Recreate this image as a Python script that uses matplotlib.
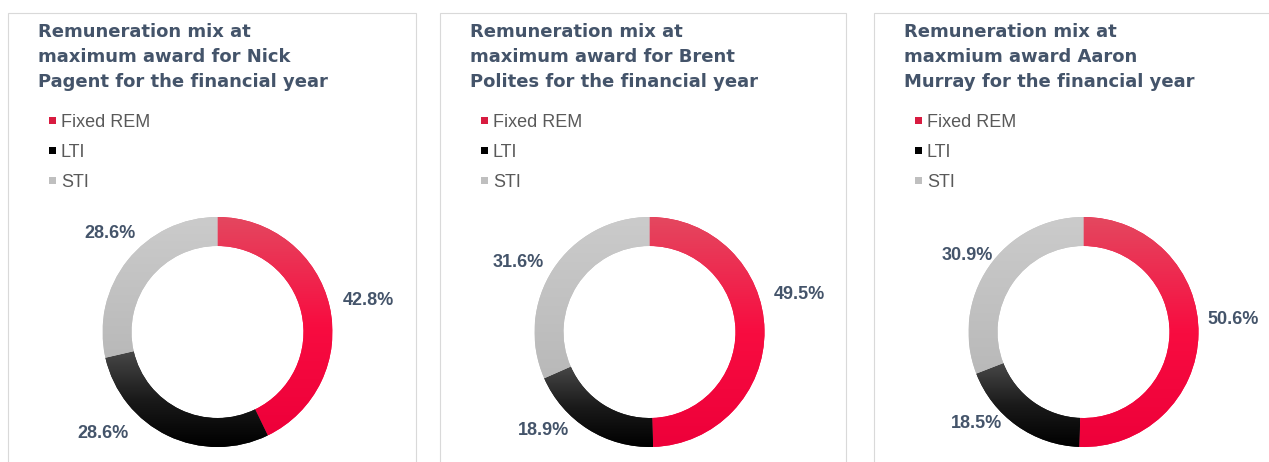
import numpy as np
import matplotlib
matplotlib.use("Agg")
import matplotlib.pyplot as plt
from matplotlib.patches import Rectangle
from matplotlib.colors import to_rgb

# Donnees
titres = [
    ["Remuneration mix at", "maximum award for Nick", "Pagent for the financial year"],
    ["Remuneration mix at", "maximum award for Brent", "Polites for the financial year"],
    ["Remuneration mix at", "maxmium award Aaron", "Murray for the financial year"],
]
categories = ["Fixed REM", "LTI", "STI"]
nick = [42.8, 28.6, 28.6]
brent = [49.5, 18.9, 31.6]
aaron = [50.6, 18.5, 30.9]
series = [nick, brent, aaron]

# Style
W, H = 1269, 462
panel_left = [8, 440, 874]
panel_width = [408, 406, 420]
couleurs_leg = ["#D81B40", "#000000", "#BFBFBF"]
degrades = [
    ["#E4475F", "#F80C40", "#EE003A"],
    ["#474747", "#1A1A1A", "#000000"],
    ["#CBCBCB", "#C2C2C2", "#B9B9B9"],
]
# decalage angulaire (deg) et rayon relatif des etiquettes
nudges = [[-1, -23, -4], [13, -15, 5], [6, -14, 1]]
rayons = [[1.34, 1.33, 1.27], [1.34, 1.26, 1.29], [1.31, 1.22, 1.21]]
R = 115
anneau = 29
titre_col = "#44546A"

fig = plt.figure(figsize=(W / 100, H / 100), dpi=100)
ax = fig.add_axes([0, 0, 1, 1])
ax.axis("off")


def gradient_image(couleurs, n=64):
    stops = np.array([to_rgb(c) for c in couleurs])
    pos = np.linspace(0, 1, len(couleurs))
    t = np.linspace(0, 1, n)
    img = np.stack([np.interp(t, pos, stops[:, k]) for k in range(3)], axis=-1)
    return img[:, None, :]


for i, vals in enumerate(series):
    p = panel_left[i]
    ax.add_patch(Rectangle((p, -10), panel_width[i], H - 13 + 10,
                           fill=False, edgecolor="#D9D9D9", linewidth=0.8))

    # Titre
    for j, ligne in enumerate(titres[i]):
        ax.text(p + 30, H - (37 + 25 * j), ligne, ha="left", va="baseline",
                fontsize=13, fontweight="bold", family="DejaVu Sans",
                color=titre_col)

    # Legende
    for j, cat in enumerate(categories):
        yc = H - (120 + 30 * j)
        ax.add_patch(Rectangle((p + 41, yc - 3.5), 7, 7, color=couleurs_leg[j],
                               linewidth=0))
        ax.text(p + 53, H - (127 + 30 * j), cat, ha="left", va="baseline",
                fontsize=13, family="Liberation Sans", color="#595959")

    # Anneau
    cx, cy = p + 209.5, H - 332
    wedges, _ = ax.pie(vals, center=(cx, cy), radius=R, startangle=90,
                       counterclock=False, colors=[d[1] for d in degrades],
                       wedgeprops=dict(width=anneau, edgecolor="none"))
    for j, w in enumerate(wedges):
        b = w.get_path().get_extents()
        im = ax.imshow(gradient_image(degrades[j]), extent=[b.x0, b.x1, b.y0, b.y1],
                       origin="upper", aspect="auto", interpolation="bilinear",
                       zorder=3)
        im.set_clip_path(w)

    # Etiquettes
    total = sum(vals)
    debut = 90.0
    for j, v in enumerate(vals):
        mid = debut - v / total * 180.0
        debut -= v / total * 360.0
        ang = np.deg2rad(mid + nudges[i][j])
        r = rayons[i][j] * R
        ax.text(cx + r * np.cos(ang), cy + r * np.sin(ang), f"{v:.1f}%",
                ha="center", va="center", fontsize=13, fontweight="bold",
                family="Liberation Sans", color=titre_col, zorder=5)

ax.set_xlim(0, W)
ax.set_ylim(0, H)
ax.set_aspect("auto")
fig.savefig("out.png", dpi=100)
